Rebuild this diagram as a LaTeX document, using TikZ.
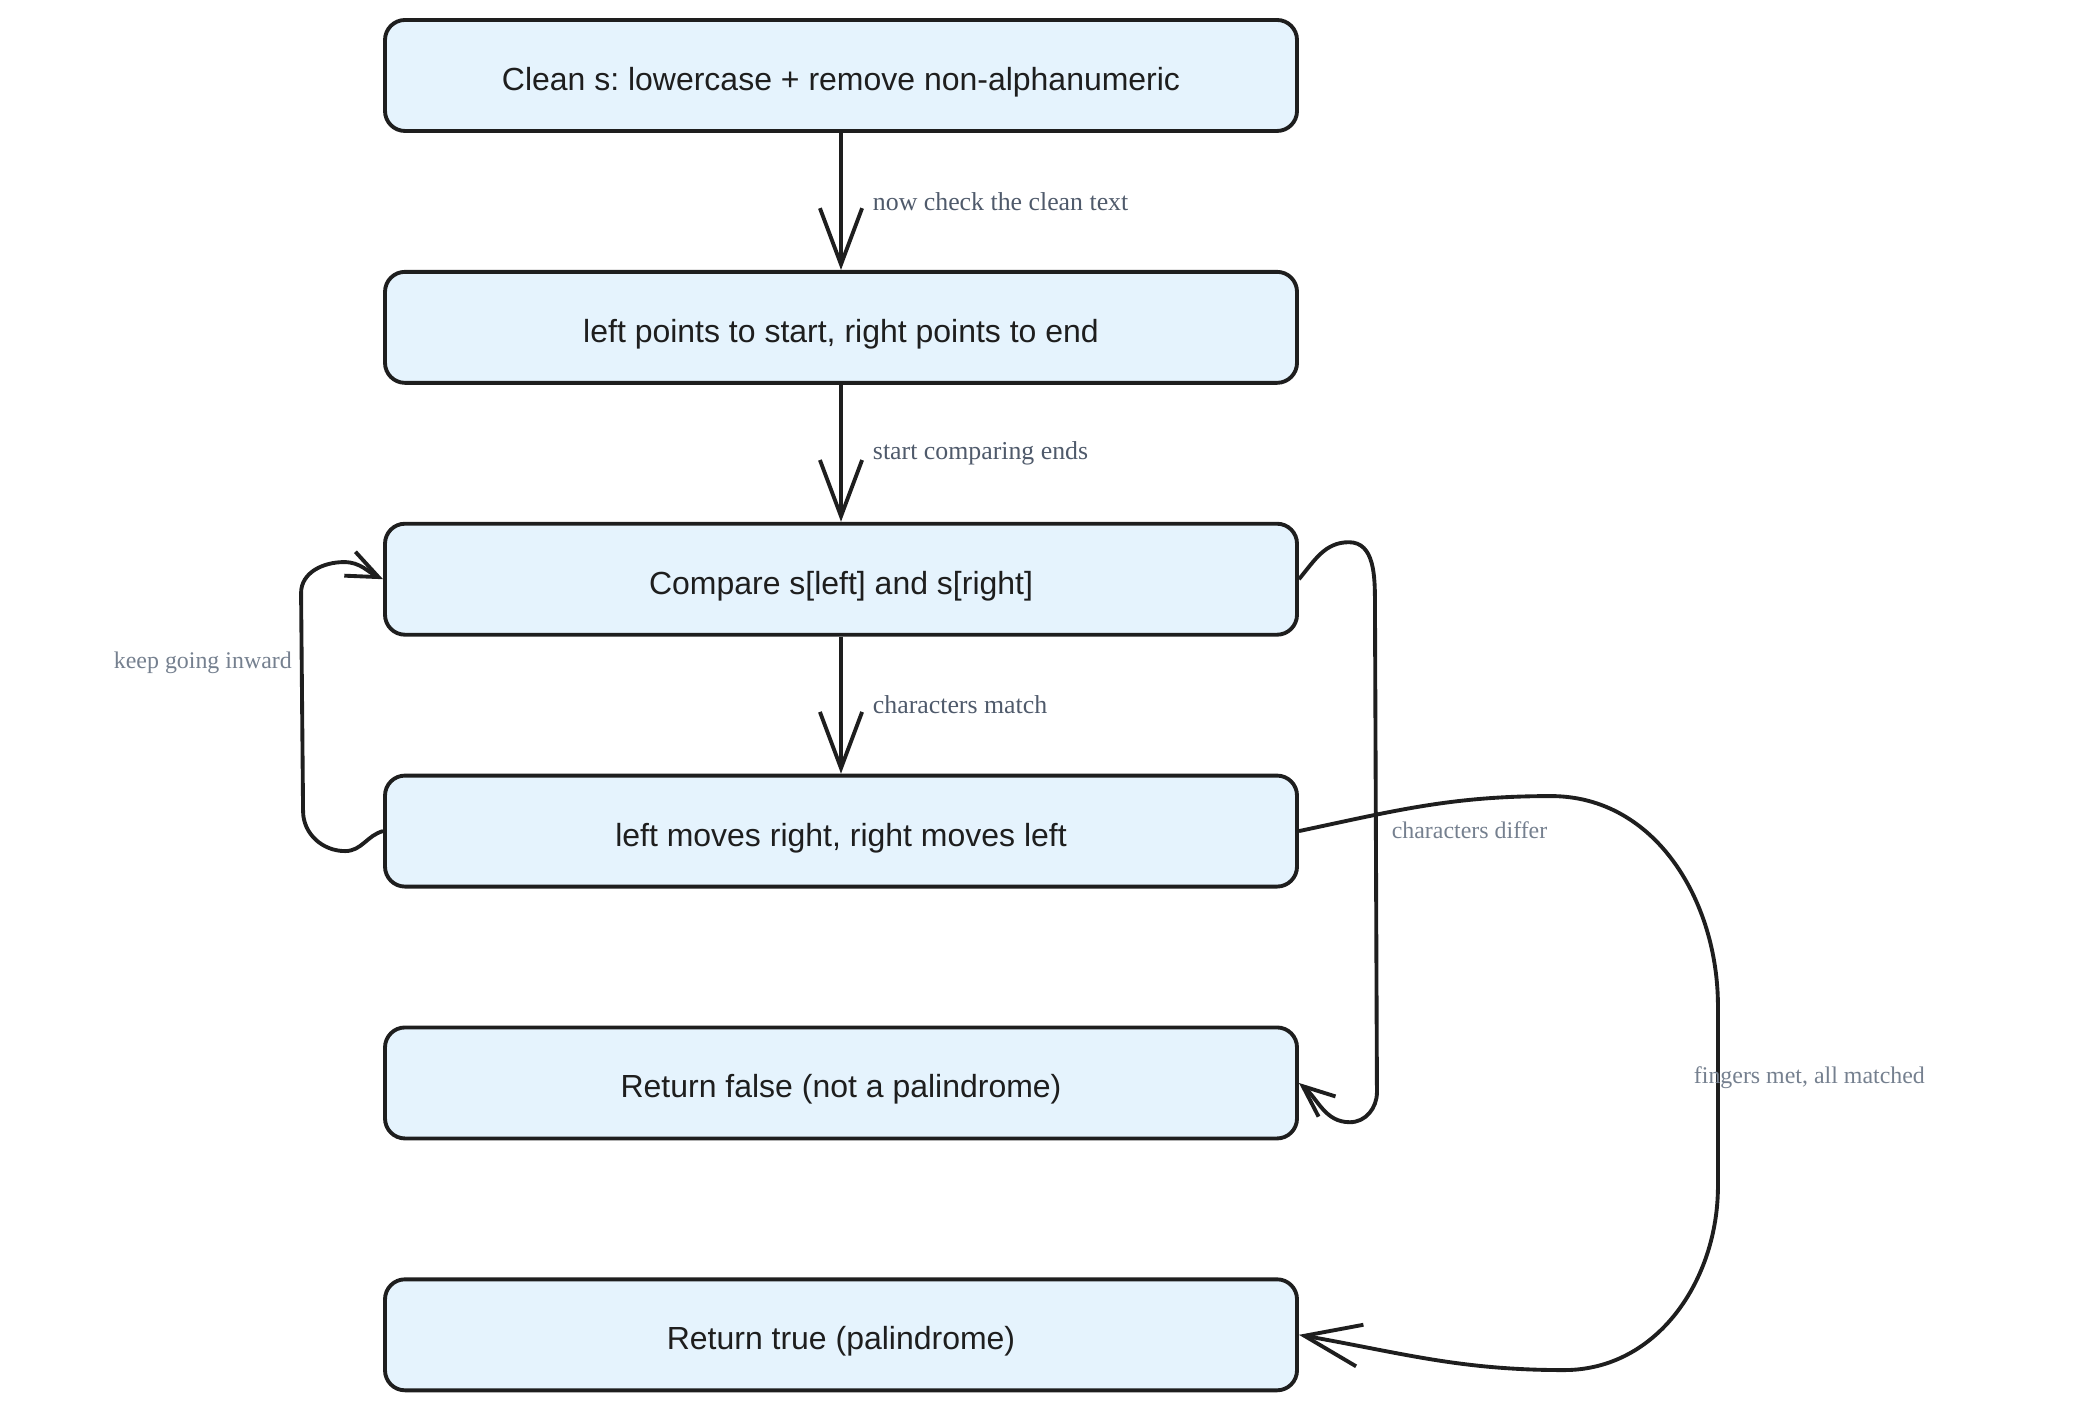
\documentclass[tikz,border=0pt]{standalone}
\usepackage{fontspec}
\setmainfont{Liberation Serif}
\setsansfont{Liberation Sans}
\usepackage{xcolor}
\usepackage{tikz}
\usetikzlibrary{arrows.meta, positioning, calc}
\definecolor{boxfill}{HTML}{E5F3FD}
\definecolor{inkdark}{HTML}{1E1E1E}
\definecolor{notegray}{HTML}{4F5A6B}
\definecolor{loopgray}{HTML}{75808F}
\frenchspacing

\begin{document}
\begin{tikzpicture}[
  stepbox/.style={draw=inkdark, line width=1.1pt, fill=boxfill, rounded corners=0.2cm,
    minimum width=9.12cm, minimum height=1.11cm, inner sep=0pt, text=inkdark,
    text height=8.5pt, text depth=0pt,
    font=\sffamily\fontsize{9.1}{11}\selectfont},
  flow/.style={draw=inkdark, line width=1.1pt, -{Straight Barb[length=16pt,width=12pt]}},
  loopflow/.style={draw=inkdark, line width=1.1pt, -{Straight Barb[length=9pt,width=7.5pt]}},
  note/.style={text=notegray, font=\fontsize{7.35}{9}\selectfont, inner sep=0pt},
  loopnote/.style={text=loopgray, font=\fontsize{6.8}{8}\selectfont, inner sep=0pt},
  node distance=1.37cm
]
  \useasboundingbox (0,0) rectangle (20.94,14.12);

  % Steps
  \node[stepbox] (clean) at (8.41,13.365) {Clean s: lowercase + remove non-alphanumeric};
  \node[stepbox, below=of clean] (ptrs) {left points to start, right points to end};
  \node[stepbox, below=of ptrs] (cmp) {Compare s[left] and s[right]};
  \node[stepbox, below=of cmp] (move) {left moves right, right moves left};
  \node[stepbox, below=of move] (rfalse) {Return false (not a palindrome)};
  \node[stepbox, below=of rfalse] (rtrue) {Return true (palindrome)};

  % Main flow
  \draw[flow] (clean) -- node[note, right=3mm] {now check the clean text} (ptrs);
  \draw[flow] (ptrs) -- node[note, right=3mm] {start comparing ends} (cmp);
  \draw[flow] (cmp) -- node[note, right=3mm] {characters match} (move);

  % Loop back
  \draw[loopflow] (move.west) to[out=195,in=0] ++(-0.38,-0.2) to[out=180,in=-90] ++(-0.42,0.4)
    -- node[loopnote, left=0.8mm, pos=0.68] {keep going inward} ++(-0.02,2.18)
    to[out=90,in=180] ++(0.43,0.31) to[out=0,in=155] (cmp.west);

  % Mismatch
  \draw[loopflow] (cmp.east) to[out=50,in=180] ++(0.5,0.37) to[out=0,in=90] ++(0.26,-0.6)
    -- node[loopnote, right=1.4mm, pos=0.465] {characters differ} ++(0.02,-4.9)
    to[out=-90,in=0] ++(-0.27,-0.3) to[out=180,in=-40] (rfalse.east);

  % Done
  \draw[flow] (move.east) to[out=12,in=180] ++(2.52,0.35) to[out=0,in=90] ++(1.67,-2.1)
    -- node[loopnote, right, pos=0.4, xshift=-2.6mm] {fingers met, all matched} ++(0,-1.8)
    to[out=-90,in=0] ++(-1.54,-1.84) to[out=180,in=-10] (rtrue.east);
\end{tikzpicture}
\end{document}
